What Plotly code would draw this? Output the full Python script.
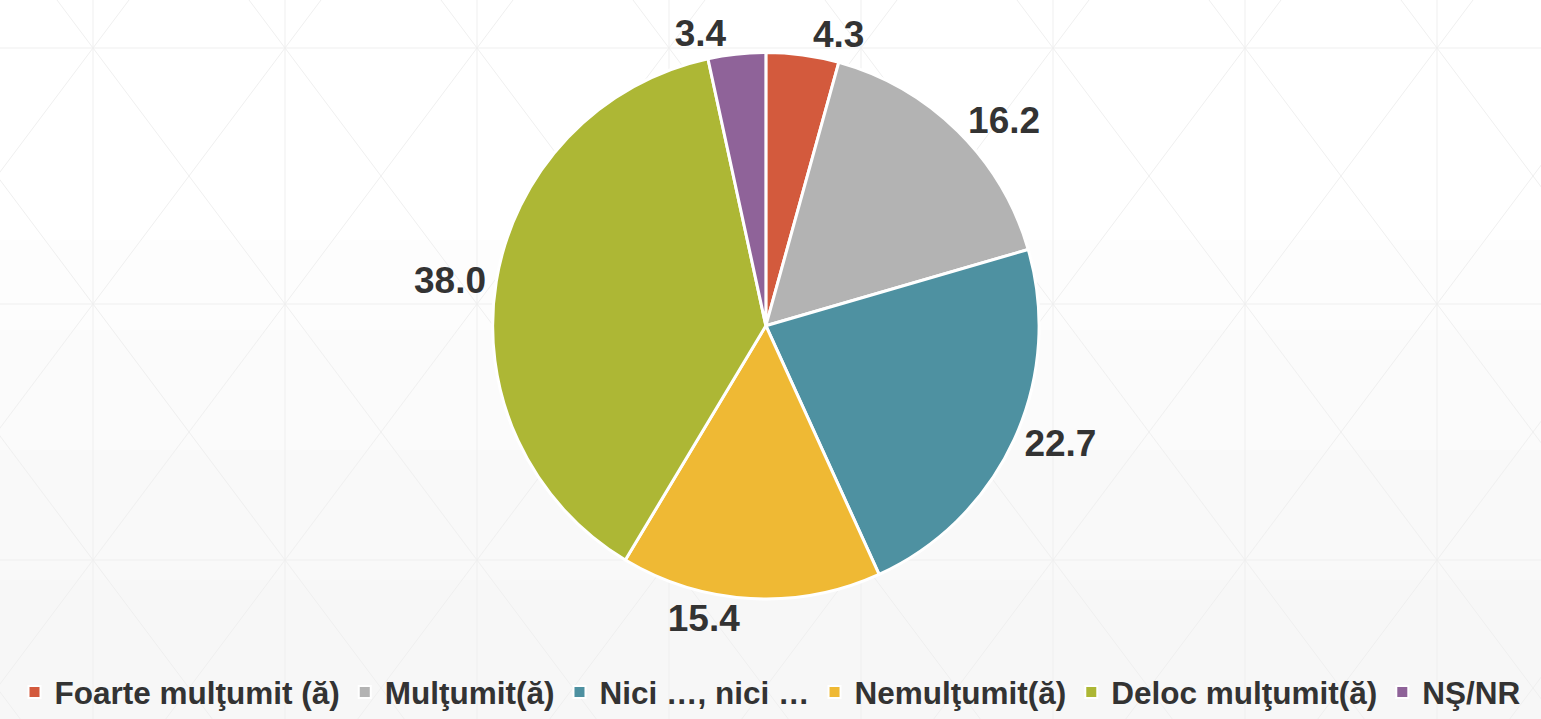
import plotly.graph_objects as go

# survey answers, percent
labels = ["Foarte mulţumit (ă)", "Mulţumit(ă)", "Nici …, nici …",
          "Nemulţumit(ă)", "Deloc mulţumit(ă)", "NŞ/NR"]
values = [4.3, 16.2, 22.7, 15.4, 38.0, 3.4]
colors = ["#D35A3D", "#B3B3B3", "#4E91A1", "#EFB934", "#ADB735", "#8F6399"]

W, H = 1541, 719

fig = go.Figure(go.Pie(
    labels=labels,
    values=values,
    sort=False,
    direction="clockwise",
    rotation=0,
    marker=dict(colors=colors, line=dict(color="white", width=3)),
    texttemplate="%{value:.1f}",
    textposition="outside",
    textfont=dict(family="Liberation Sans, Arial", size=37, color="#333333", weight="bold"),
    domain=dict(x=[0.2, 0.794], y=[0.167, 0.927]),
    hoverinfo="label+value",
))

# soft grey fade towards the bottom plus a faint triangle pattern (decoration only)
shapes = []
for top, shade in [(240, "#fdfdfd"), (330, "#fbfbfb"), (450, "#f9f9f9"), (580, "#f7f7f7")]:
    shapes.append(dict(type="rect", xref="paper", yref="paper", x0=0, x1=1, y0=0, y1=1 - top / H,
                       fillcolor=shade, line=dict(width=0), layer="below"))
grid = dict(color="#efefef", width=1)
for k in range(-1, 10):
    x = 93 + 192 * k
    shapes.append(dict(type="line", xref="paper", yref="paper", x0=x / W, x1=x / W, y0=0, y1=1,
                       line=grid, layer="below"))
for m in range(0, 3):
    y = 48 + 256 * m
    shapes.append(dict(type="line", xref="paper", yref="paper", x0=0, x1=1, y0=1 - y / H, y1=1 - y / H,
                       line=grid, layer="below"))
for k in range(-6, 12):
    x0 = 93 + 192 * k
    # down-right and down-left diagonals through the vertex (x0, 48)
    for s in (1, -1):
        xa, ya = x0 - s * 192 * 0.1875, 0
        xb, yb = x0 + s * 192 * (671 / 256), 719
        shapes.append(dict(type="line", xref="paper", yref="paper",
                           x0=xa / W, y0=1 - ya / H, x1=xb / W, y1=1 - yb / H,
                           line=grid, layer="below"))

fig.update_layout(
    width=W, height=H,
    margin=dict(l=0, r=0, t=0, b=0),
    paper_bgcolor="white",
    plot_bgcolor="white",
    shapes=shapes,
    showlegend=True,
    legend=dict(orientation="h", x=0.5, xanchor="center", y=0, yanchor="bottom",
                font=dict(family="Liberation Sans, Arial", size=31.5, color="#333333", weight="bold"),
                bgcolor="rgba(0,0,0,0)", itemsizing="constant"),
)

fig.write_html("out.html", config={"displayModeBar": False},
               post_script="document.body.style.margin='0';")
